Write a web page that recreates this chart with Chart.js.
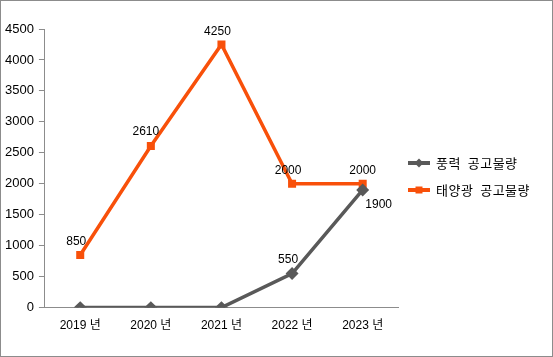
<!DOCTYPE html>
<html><head><meta charset="utf-8">
<script src="https://cdn.jsdelivr.net/npm/chart.js@4/dist/chart.umd.min.js"></script>
<style>
html,body{margin:0;padding:0;background:#fff;}
#wrap{position:relative;width:553px;height:357px;}
#frame{position:absolute;left:0;top:0;width:553px;height:357px;box-sizing:border-box;border:1px solid #8c8c8c;pointer-events:none;}
#legend{position:absolute;left:408px;top:149px;font:13px "Noto Sans CJK KR","Liberation Sans",sans-serif;color:#000;letter-spacing:0.5px;}
.li{display:flex;align-items:center;height:27px;white-space:pre;}
.sw{width:22px;height:12px;margin-right:6px;}
</style></head>
<body>
<div id="wrap"><canvas id="c" width="553" height="357"></canvas><div id="frame"></div>
<div id="legend"></div></div>
<script>
const categories = ["2019 년","2020 년","2021 년","2022 년","2023 년"];
const windValues = [0, 0, 0, 550, 1900];
const solarValues = [850, 2610, 4250, 2000, 2000];
const seriesNames = ["풍력  공고물량","태양광  공고물량"];
const yTicks = [0,500,1000,1500,2000,2500,3000,3500,4000,4500];

const GRAY = "#595959", ORANGE = "#F8500A";
const FONT = '"Liberation Sans","Noto Sans CJK KR",sans-serif';

const labelPlugin = {
  id:'lbl',
  afterDatasetsDraw(chart){
    const ctx = chart.ctx;
    ctx.save();
    ctx.font = '12px ' + FONT;
    ctx.fillStyle = '#000';
    ctx.textAlign = 'center';
    ctx.textBaseline = 'middle';
    chart.data.datasets.forEach((ds,di)=>{
      const meta = chart.getDatasetMeta(di);
      ds.data.forEach((v,i)=>{
        if(ds.showLabel && ds.showLabel[i]){
          const p = meta.data[i];
          const off = ds.labelOffset[i];
          ctx.fillText(String(v), p.x + off[0], p.y + off[1]);
        }
      });
    });
    ctx.restore();
  }
};

new Chart(document.getElementById('c'),{
  type:'line',
  data:{labels:categories,datasets:[
    {label:seriesNames[0],data:windValues,borderColor:GRAY,backgroundColor:GRAY,borderWidth:3.5,
     pointStyle:'rectRot',pointRadius:4,pointHoverRadius:4,tension:0,
     showLabel:[false,false,false,true,true],labelOffset:[[0,0],[0,0],[0,0],[-4,-14],[16,15]]},
    {label:seriesNames[1],data:solarValues,borderColor:ORANGE,backgroundColor:ORANGE,borderWidth:3.5,
     pointStyle:'rect',pointRadius:3.2,pointHoverRadius:3.2,tension:0,
     showLabel:[true,true,true,true,true],labelOffset:[[-4,-13],[-5,-14],[-4,-13],[-4,-13],[0,-13]]}
  ]},
  options:{
    responsive:false,animation:false,devicePixelRatio:1,
    layout:{padding:{left:0,right:155,top:29,bottom:13}},
    plugins:{legend:{display:false},tooltip:{enabled:false}},
    scales:{
      x:{offset:true,grid:{display:true,drawOnChartArea:false,drawTicks:false},
         border:{color:'#8c8c8c',width:1},
         ticks:{color:'#000',font:{family:FONT,size:12},padding:11,maxRotation:0}},
      y:{min:0,max:4500,afterBuildTicks(ax){ax.ticks=yTicks.map(v=>({value:v}));},
         grid:{drawOnChartArea:false,drawTicks:true,tickLength:6,color:'#8c8c8c'},
         border:{color:'#8c8c8c',width:1},
         ticks:{color:'#000',font:{family:FONT,size:13},padding:5,callback:v=>String(v)}}
    }
  },
  plugins:[labelPlugin]
});

const lg = document.getElementById('legend');
[[seriesNames[0],GRAY,'diamond'],[seriesNames[1],ORANGE,'square']].forEach(([n,c,s])=>{
  const row=document.createElement('div');row.className='li';
  const cv=document.createElement('canvas');cv.width=22;cv.height=12;cv.className='sw';
  const x=cv.getContext('2d');x.strokeStyle=c;x.fillStyle=c;x.lineWidth=4;
  x.beginPath();x.moveTo(0,6);x.lineTo(22,6);x.stroke();
  x.beginPath();
  if(s==='diamond'){x.moveTo(11,1.5);x.lineTo(15.5,6);x.lineTo(11,10.5);x.lineTo(6.5,6);x.closePath();}
  else{x.rect(7.5,2.5,7,7);}
  x.fill();
  const t=document.createElement('span');t.textContent=n;
  row.appendChild(cv);row.appendChild(t);lg.appendChild(row);
});
</script>
</body></html>
